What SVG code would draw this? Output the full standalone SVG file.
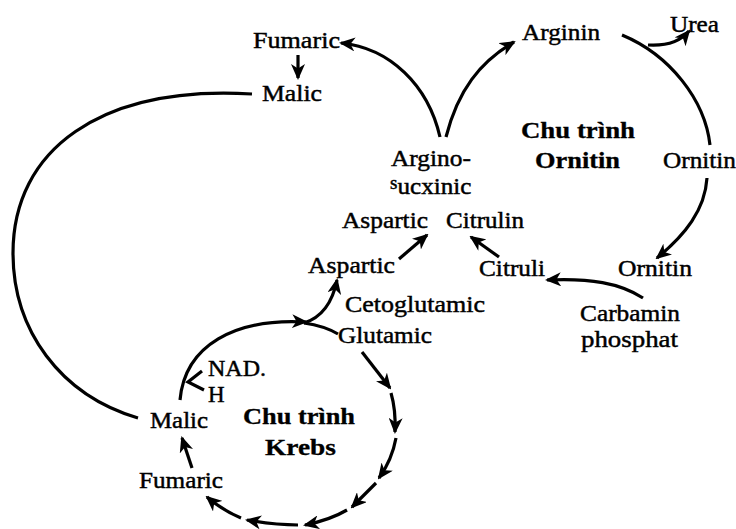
<svg xmlns="http://www.w3.org/2000/svg" width="736" height="529" viewBox="0 0 736 529">
<style>
  text { font-family: "Liberation Serif", "Times New Roman", serif; font-size: 23px; fill: #000; stroke: #000; stroke-width: 0.45; }
  .b { font-weight: bold; stroke-width: 0.3; }
  .c { fill: none; stroke: #000; stroke-width: 3.2; stroke-linecap: butt; }
</style>
<defs>
  <marker id="ah" viewBox="0 0 16 14" refX="14" refY="7" markerWidth="16" markerHeight="14" markerUnits="userSpaceOnUse" orient="auto">
    <path d="M0,0 L16,7 L0,14 L4.5,7 z" fill="#000"/>
  </marker>
</defs>
<rect width="736" height="529" fill="#fff"/>

<g id="connectors">
  <path class="c" d="M440,137 C428,85 390,48 341,43" marker-end="url(#ah)"/>
  <path class="c" d="M446,137 C458,90 480,62 514,42" marker-end="url(#ah)"/>
  <path class="c" d="M298,55 L298,78" marker-end="url(#ah)"/>
  <path class="c" d="M252,94 C100,85 13,150 13,253 C13,330 60,395 138,418"/>
  <path class="c" d="M622,35 C670,55 705,100 710,145"/>
  <path class="c" d="M648,45 C665,46 680,42 689,31" marker-end="url(#ah)"/>
  <path class="c" d="M707,178 C705,210 685,235 657,258" marker-end="url(#ah)"/>
  <path class="c" d="M643,298 C620,283 590,278 547,280" marker-end="url(#ah)"/>
  <path class="c" d="M499,257 L471,237" marker-end="url(#ah)"/>
  <path class="c" d="M399,259 L427,235" marker-end="url(#ah)"/>
  <path class="c" d="M180,400 C185,345 235,318 306,322" marker-end="url(#ah)"/>
  <path class="c" d="M304,323 C320,318 332,305 337,280" marker-end="url(#ah)"/>
  <path class="c" d="M304,323 C318,325 328,328 338,334"/>
  <path class="c" d="M202,371 L188,382 L204,390" stroke-width="2.8"/>
  <path class="c" d="M362,352 L390,388" marker-end="url(#ah)"/>
  <path class="c" d="M391,393 Q396,410 395,432" marker-end="url(#ah)"/>
  <path class="c" d="M396,438 Q392,460 379,478" marker-end="url(#ah)"/>
  <path class="c" d="M376,483 L352,507" marker-end="url(#ah)"/>
  <path class="c" d="M347,510 Q330,520 305,525" marker-end="url(#ah)"/>
  <path class="c" d="M298,525 Q275,525 247,520" marker-end="url(#ah)"/>
  <path class="c" d="M241,518 Q222,510 207,497" marker-end="url(#ah)"/>
  <path class="c" d="M192,468 L182,438" marker-end="url(#ah)"/>
</g>

<g id="fumaric-top"><text x="253" y="48" textLength="87" lengthAdjust="spacingAndGlyphs">Fumaric</text></g>
<g id="malic-top"><text x="262" y="101" textLength="60" lengthAdjust="spacingAndGlyphs">Malic</text></g>
<g id="arginosucxinic">
  <text x="391" y="166" textLength="80" lengthAdjust="spacingAndGlyphs">Argino-</text>
  <text x="390" y="194"><tspan dy="-5" font-size="19">s</tspan><tspan dy="5" textLength="74" lengthAdjust="spacingAndGlyphs">ucxinic</tspan></text>
</g>
<g id="arginin"><text x="522" y="40" textLength="78" lengthAdjust="spacingAndGlyphs">Arginin</text></g>
<g id="urea"><text x="670" y="32" textLength="49" lengthAdjust="spacingAndGlyphs">Urea</text></g>
<g id="chu-trinh-ornitin">
  <text class="b" x="521" y="138" textLength="114" lengthAdjust="spacingAndGlyphs">Chu trình</text>
  <text class="b" x="535" y="168" textLength="85" lengthAdjust="spacingAndGlyphs">Ornitin</text>
</g>
<g id="ornitin-right"><text x="663" y="168" textLength="73" lengthAdjust="spacingAndGlyphs">Ornitin</text></g>
<g id="ornitin-lower"><text x="618" y="276" textLength="74" lengthAdjust="spacingAndGlyphs">Ornitin</text></g>
<g id="citruli"><text x="479" y="276" textLength="66" lengthAdjust="spacingAndGlyphs">Citruli</text></g>
<g id="citrulin"><text x="446" y="228" textLength="78" lengthAdjust="spacingAndGlyphs">Citrulin</text></g>
<g id="aspartic-upper"><text x="342" y="228" textLength="86" lengthAdjust="spacingAndGlyphs">Aspartic</text></g>
<g id="aspartic-lower"><text x="308" y="273" textLength="87" lengthAdjust="spacingAndGlyphs">Aspartic</text></g>
<g id="cetoglutamic"><text x="345" y="312" textLength="140" lengthAdjust="spacingAndGlyphs">Cetoglutamic</text></g>
<g id="glutamic"><text x="338" y="343" textLength="94" lengthAdjust="spacingAndGlyphs">Glutamic</text></g>
<g id="carbamin-phosphat">
  <text x="580" y="321" textLength="100" lengthAdjust="spacingAndGlyphs">Carbamin</text>
  <text x="581" y="347" textLength="97" lengthAdjust="spacingAndGlyphs">phosphat</text>
</g>
<g id="nadh">
  <text x="208" y="376" textLength="58" lengthAdjust="spacingAndGlyphs">NAD.</text>
  <text x="208" y="402">H</text>
</g>
<g id="malic-lower"><text x="150" y="428" textLength="58" lengthAdjust="spacingAndGlyphs">Malic</text></g>
<g id="fumaric-lower"><text x="139" y="488" textLength="84" lengthAdjust="spacingAndGlyphs">Fumaric</text></g>
<g id="chu-trinh-krebs">
  <text class="b" x="243" y="424" textLength="112" lengthAdjust="spacingAndGlyphs">Chu trình</text>
  <text class="b" x="265" y="455" textLength="71" lengthAdjust="spacingAndGlyphs">Krebs</text>
</g>
</svg>
